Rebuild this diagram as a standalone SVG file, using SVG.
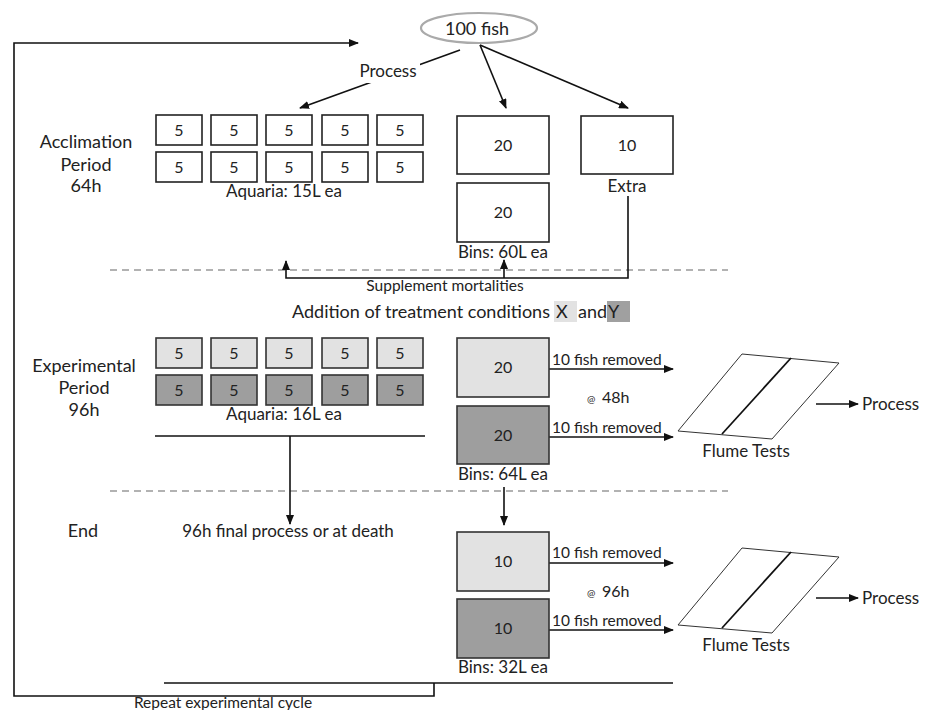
<svg xmlns="http://www.w3.org/2000/svg" width="928" height="710" viewBox="0 0 928 710">
<defs>
<marker id="ah" markerWidth="10" markerHeight="8" refX="9" refY="4" orient="auto" markerUnits="userSpaceOnUse">
<path d="M0,0 L10,4 L0,8 Z" fill="#111"/>
</marker>
<style>
text{font-family:Lato,"Open Sans","Liberation Sans",sans-serif;fill:#222}
.b{fill:#fff;stroke:#222;stroke-width:1.6}
.l{fill:#e2e2e2;stroke:#333;stroke-width:1.6}
.d{fill:#9e9e9e;stroke:#333;stroke-width:1.6}
.c{fill:none;stroke:#111;stroke-width:1.6}
.a{fill:none;stroke:#111;stroke-width:1.6;marker-end:url(#ah)}
.dash{fill:none;stroke:#999;stroke-width:1.6;stroke-dasharray:7 5}
.n{font-size:16px;text-anchor:middle}
.m{font-size:17px;text-anchor:middle}
.h{font-size:18px;text-anchor:middle}
.s{font-size:17px;text-anchor:middle}
.r{font-size:15.5px}
.f{fill:#fff;stroke:#333;stroke-width:1}
</style>
</defs>

<g id="separators">
<line class="dash" x1="110" y1="270" x2="728" y2="270"/>
<line class="dash" x1="110" y1="491" x2="728" y2="491"/>
</g>

<g id="connectors">
<polyline class="c" points="434,683 434,696 14,696 14,43 350,43"/>
<line class="a" x1="350" y1="43" x2="358" y2="43"/>
<line class="c" x1="164" y1="683" x2="673" y2="683"/>
<line class="a" x1="460" y1="50" x2="300" y2="108"/>
<line class="a" x1="480" y1="45" x2="506" y2="108"/>
<line class="a" x1="480" y1="45" x2="628" y2="108"/>
<polyline class="a" points="628,196 628,278 286,278 286,261"/>
<line class="a" x1="504" y1="278" x2="504" y2="260"/>
<line class="c" x1="155" y1="436" x2="425" y2="436"/>
<line class="a" x1="290" y1="436" x2="290" y2="524"/>
<line class="a" x1="504" y1="487" x2="504" y2="525"/>
<line class="a" x1="549" y1="369" x2="673" y2="369"/>
<line class="a" x1="549" y1="437" x2="673" y2="437"/>
<line class="a" x1="816" y1="404" x2="858" y2="404"/>
<line class="a" x1="549" y1="563" x2="673" y2="563"/>
<line class="a" x1="549" y1="630" x2="673" y2="630"/>
<line class="a" x1="816" y1="598" x2="858" y2="598"/>
</g>

<g id="fish">
<ellipse cx="479" cy="28" rx="58" ry="15" fill="#fff" stroke="#aaa" stroke-width="2.2"/>
<text x="477" y="35" class="h">100 fish</text>
</g>

<g id="process-label">
<rect x="357" y="63" width="63" height="20" fill="#fff"/>
<text x="388" y="77" class="m">Process</text>
</g>

<g id="labels">
<text class="h"><tspan x="86" y="148">Acclimation</tspan><tspan x="86" y="171">Period</tspan><tspan x="86" y="192">64h</tspan></text>
<text class="h"><tspan x="84" y="372">Experimental</tspan><tspan x="84" y="394">Period</tspan><tspan x="84" y="416">96h</tspan></text>
<text x="83" y="537" class="h">End</text>
<text x="288" y="537" class="m">96h final process or at death</text>
<text x="445" y="291" class="s" style="font-size:15.5px">Supplement mortalities</text>
<text x="223" y="708" class="s" style="font-size:15.5px">Repeat experimental cycle</text>
</g>

<g id="treatment">
<rect x="554" y="301" width="23" height="21" fill="#e2e2e2"/>
<rect x="607" y="301" width="23" height="21" fill="#a0a0a0"/>
<text y="318" style="font-size:18px"><tspan x="292">Addition of treatment conditions</tspan><tspan x="556">X</tspan><tspan x="578">and</tspan><tspan x="608">Y</tspan></text>
</g>

<g id="aquaria-acclimation">
<rect class="b" x="156" y="115" width="46" height="30"/><text class="n" x="179" y="136">5</text>
<rect class="b" x="211" y="115" width="46" height="30"/><text class="n" x="234" y="136">5</text>
<rect class="b" x="266" y="115" width="46" height="30"/><text class="n" x="289" y="136">5</text>
<rect class="b" x="322" y="115" width="46" height="30"/><text class="n" x="345" y="136">5</text>
<rect class="b" x="377" y="115" width="46" height="30"/><text class="n" x="400" y="136">5</text>
<rect class="b" x="156" y="152" width="46" height="30"/><text class="n" x="179" y="173">5</text>
<rect class="b" x="211" y="152" width="46" height="30"/><text class="n" x="234" y="173">5</text>
<rect class="b" x="266" y="152" width="46" height="30"/><text class="n" x="289" y="173">5</text>
<rect class="b" x="322" y="152" width="46" height="30"/><text class="n" x="345" y="173">5</text>
<rect class="b" x="377" y="152" width="46" height="30"/><text class="n" x="400" y="173">5</text>
<text x="284" y="197" class="s">Aquaria: 15L ea</text>
</g>

<g id="bins-acclimation">
<rect class="b" x="457" y="116" width="92" height="58"/><text class="n" x="503" y="151">20</text>
<rect class="b" x="457" y="183" width="92" height="59"/><text class="n" x="503" y="218">20</text>
<text x="503" y="258" class="s">Bins: 60L ea</text>
</g>

<g id="extra">
<rect class="b" x="581" y="116" width="92" height="58"/><text class="n" x="627" y="151">10</text>
<text x="627" y="192" class="s">Extra</text>
</g>

<g id="aquaria-experimental">
<rect class="l" x="156" y="338" width="46" height="30"/><text class="n" x="179" y="359">5</text>
<rect class="l" x="211" y="338" width="46" height="30"/><text class="n" x="234" y="359">5</text>
<rect class="l" x="266" y="338" width="46" height="30"/><text class="n" x="289" y="359">5</text>
<rect class="l" x="322" y="338" width="46" height="30"/><text class="n" x="345" y="359">5</text>
<rect class="l" x="377" y="338" width="46" height="30"/><text class="n" x="400" y="359">5</text>
<rect class="d" x="156" y="375" width="46" height="30"/><text class="n" x="179" y="396">5</text>
<rect class="d" x="211" y="375" width="46" height="30"/><text class="n" x="234" y="396">5</text>
<rect class="d" x="266" y="375" width="46" height="30"/><text class="n" x="289" y="396">5</text>
<rect class="d" x="322" y="375" width="46" height="30"/><text class="n" x="345" y="396">5</text>
<rect class="d" x="377" y="375" width="46" height="30"/><text class="n" x="400" y="396">5</text>
<text x="284" y="420" class="s">Aquaria: 16L ea</text>
</g>

<g id="bins-experimental">
<rect class="l" x="457" y="338" width="92" height="59"/><text class="n" x="503" y="373">20</text>
<rect class="d" x="457" y="406" width="92" height="58"/><text class="n" x="503" y="441">20</text>
<text x="503" y="480" class="s">Bins: 64L ea</text>
<text x="552" y="365" class="r">10 fish removed</text>
<text x="552" y="433" class="r">10 fish removed</text>
<text y="403"><tspan x="587" style="font-size:10px">@</tspan><tspan x="602" style="font-size:16px">48h</tspan></text>
</g>

<g id="flume-1">
<polygon class="f" points="742,354 839,363 772,439 678,431"/>
<line x1="791" y1="358" x2="722" y2="434" stroke="#111" stroke-width="1.8"/>
<text x="746" y="457" class="s">Flume Tests</text>
<text x="862" y="410" style="font-size:17px">Process</text>
</g>

<g id="bins-end">
<rect class="l" x="457" y="532" width="92" height="59"/><text class="n" x="503" y="567">10</text>
<rect class="d" x="457" y="599" width="92" height="59"/><text class="n" x="503" y="634">10</text>
<text x="503" y="673" class="s">Bins: 32L ea</text>
<text x="552" y="558" class="r">10 fish removed</text>
<text x="552" y="626" class="r">10 fish removed</text>
<text y="597"><tspan x="587" style="font-size:10px">@</tspan><tspan x="602" style="font-size:16px">96h</tspan></text>
</g>

<g id="flume-2">
<polygon class="f" points="742,548 839,557 772,633 678,625"/>
<line x1="791" y1="552" x2="722" y2="628" stroke="#111" stroke-width="1.8"/>
<text x="746" y="651" class="s">Flume Tests</text>
<text x="862" y="604" style="font-size:17px">Process</text>
</g>
</svg>
